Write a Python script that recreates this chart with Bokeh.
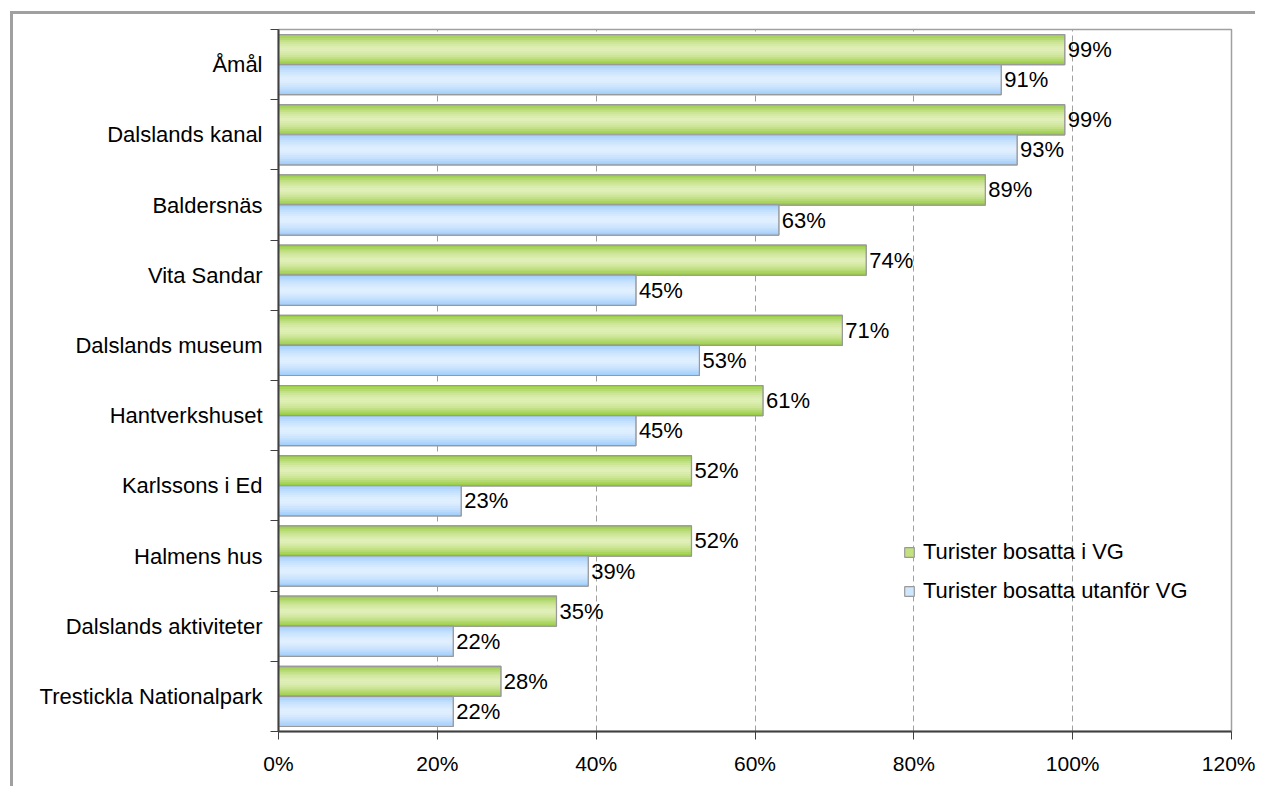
from bokeh.plotting import figure
from bokeh.models import FixedTicker, PrintfTickFormatter, ColumnDataSource, Legend, LegendItem, Range1d
from bokeh.embed import file_html
from bokeh.resources import INLINE
from bokeh.core.properties import value

# ---------------- data ----------------
categories = ["Åmål", "Dalslands kanal", "Baldersnäs", "Vita Sandar", "Dalslands museum",
              "Hantverkshuset", "Karlssons i Ed", "Halmens hus", "Dalslands aktiviteter",
              "Trestickla Nationalpark"]
inside_vg = [99, 99, 89, 74, 71, 61, 52, 52, 35, 28]
outside_vg = [91, 93, 63, 45, 53, 45, 23, 39, 22, 22]
series_names = ["Turister bosatta i VG", "Turister bosatta utanför VG"]
x_ticks = [0, 20, 40, 60, 80, 100, 120]

FONT = "Liberation Sans"
n = len(categories)
centers = [n - 0.5 - i for i in range(n)]
boundaries = [float(i) for i in range(n + 1)]
BAR_H = 0.43
OFFSET = 0.214

W, H = 1255, 786
p = figure(width=W, height=H, output_backend="svg", toolbar_location=None,
           x_range=Range1d(0, 120), y_range=Range1d(0, n),
           min_border_left=278, min_border_right=W - 1231, min_border_top=29,
           min_border_bottom=H - 731,
           styles={"box-shadow": "inset 10px 11px 0 0 #ffffff, inset 13px 14px 0 0 #a0a0a0",
                   "background-color": "#ffffff"})
p.border_fill_color = None
p.background_fill_color = "#ffffff"
p.outline_line_color = "#a0a0a0"
p.outline_line_width = 1.5

# grid
p.ygrid.visible = False
p.xgrid.ticker = FixedTicker(ticks=x_ticks)
p.xgrid.grid_line_color = "#a0a0a0"
p.xgrid.grid_line_dash = "6 4"
p.xgrid.grid_line_width = 1

# x axis
xa = p.xaxis[0]
xa.ticker = FixedTicker(ticks=x_ticks)
xa.formatter = PrintfTickFormatter(format="%d%%")
xa.axis_line_color = "#404040"
xa.axis_line_width = 2
xa.major_tick_line_color = "#404040"
xa.major_tick_out = 8
xa.major_tick_in = 0
xa.minor_tick_out = 0
xa.minor_tick_in = 0
xa.major_label_standoff = 12
xa.major_label_text_font = FONT
xa.major_label_text_font_size = "21px"
xa.major_label_text_color = "#000000"

# y axis
ya = p.yaxis[0]
ya.ticker = FixedTicker(ticks=centers, minor_ticks=boundaries)
ya.major_label_overrides = {c: name for c, name in zip(centers, categories)}
ya.axis_line_color = "#404040"
ya.axis_line_width = 2
ya.major_tick_out = 0
ya.major_tick_in = 0
ya.minor_tick_out = 8
ya.minor_tick_in = 0
ya.minor_tick_line_color = "#404040"
ya.major_label_standoff = 8
ya.major_label_text_font = FONT
ya.major_label_text_font_size = "22px"
ya.major_label_text_color = "#000000"


def hex2rgb(h):
    h = h.lstrip("#")
    return [int(h[i:i + 2], 16) for i in (0, 2, 4)]


def mix(c1, c2, w):
    a, b = hex2rgb(c1), hex2rgb(c2)
    return "#%02x%02x%02x" % tuple(int(round(a[i] + (b[i] - a[i]) * w)) for i in range(3))


def gradient_bars(vals, offset, dark, light, swatch, N=16):
    ys_c = [c + offset for c in centers]
    # base bar (also used as the legend swatch)
    base = p.hbar(y=ys_c, left=0, right=vals, height=BAR_H,
                  fill_color=swatch, line_color="#999999", line_width=1.2)
    h = BAR_H / N
    for k in range(N):
        t = (k + 0.5) / N
        w = 1 - abs(2 * t - 1) ** 1.6
        col = mix(dark, light, w)
        ys = [c + BAR_H / 2 - (k + 0.5) * h for c in ys_c]
        p.hbar(y=ys, left=0, right=vals, height=h * 1.2, fill_color=col, line_color=None)
    p.hbar(y=ys_c, left=0, right=vals, height=BAR_H,
           fill_color=None, line_color="#999999", line_width=1.2)
    src = ColumnDataSource(dict(x=vals, y=ys_c, t=["%d%%" % v for v in vals]))
    p.text(x="x", y="y", text="t", source=src, x_offset=3, text_baseline="middle",
           text_align="left", text_font=value(FONT), text_font_size="22px", text_color="#000000")
    return base


r1 = gradient_bars(inside_vg, OFFSET, "#94c93a", "#e0efb8", "#c4e17f")
r2 = gradient_bars(outside_vg, -OFFSET, "#9ccbfb", "#e0efff", "#cfe6ff")

legend = Legend(items=[LegendItem(label=series_names[0], renderers=[r1]),
                       LegendItem(label=series_names[1], renderers=[r2])],
                location=(625, 127), orientation="vertical",
                glyph_width=12, glyph_height=12, label_standoff=8,
                label_height=24, spacing=13, padding=0, margin=0,
                border_line_color=None, background_fill_alpha=0,
                label_text_font=FONT, label_text_font_size="22px", label_text_color="#000000")
p.add_layout(legend)

open("out.html", "w").write(file_html(p, INLINE))
